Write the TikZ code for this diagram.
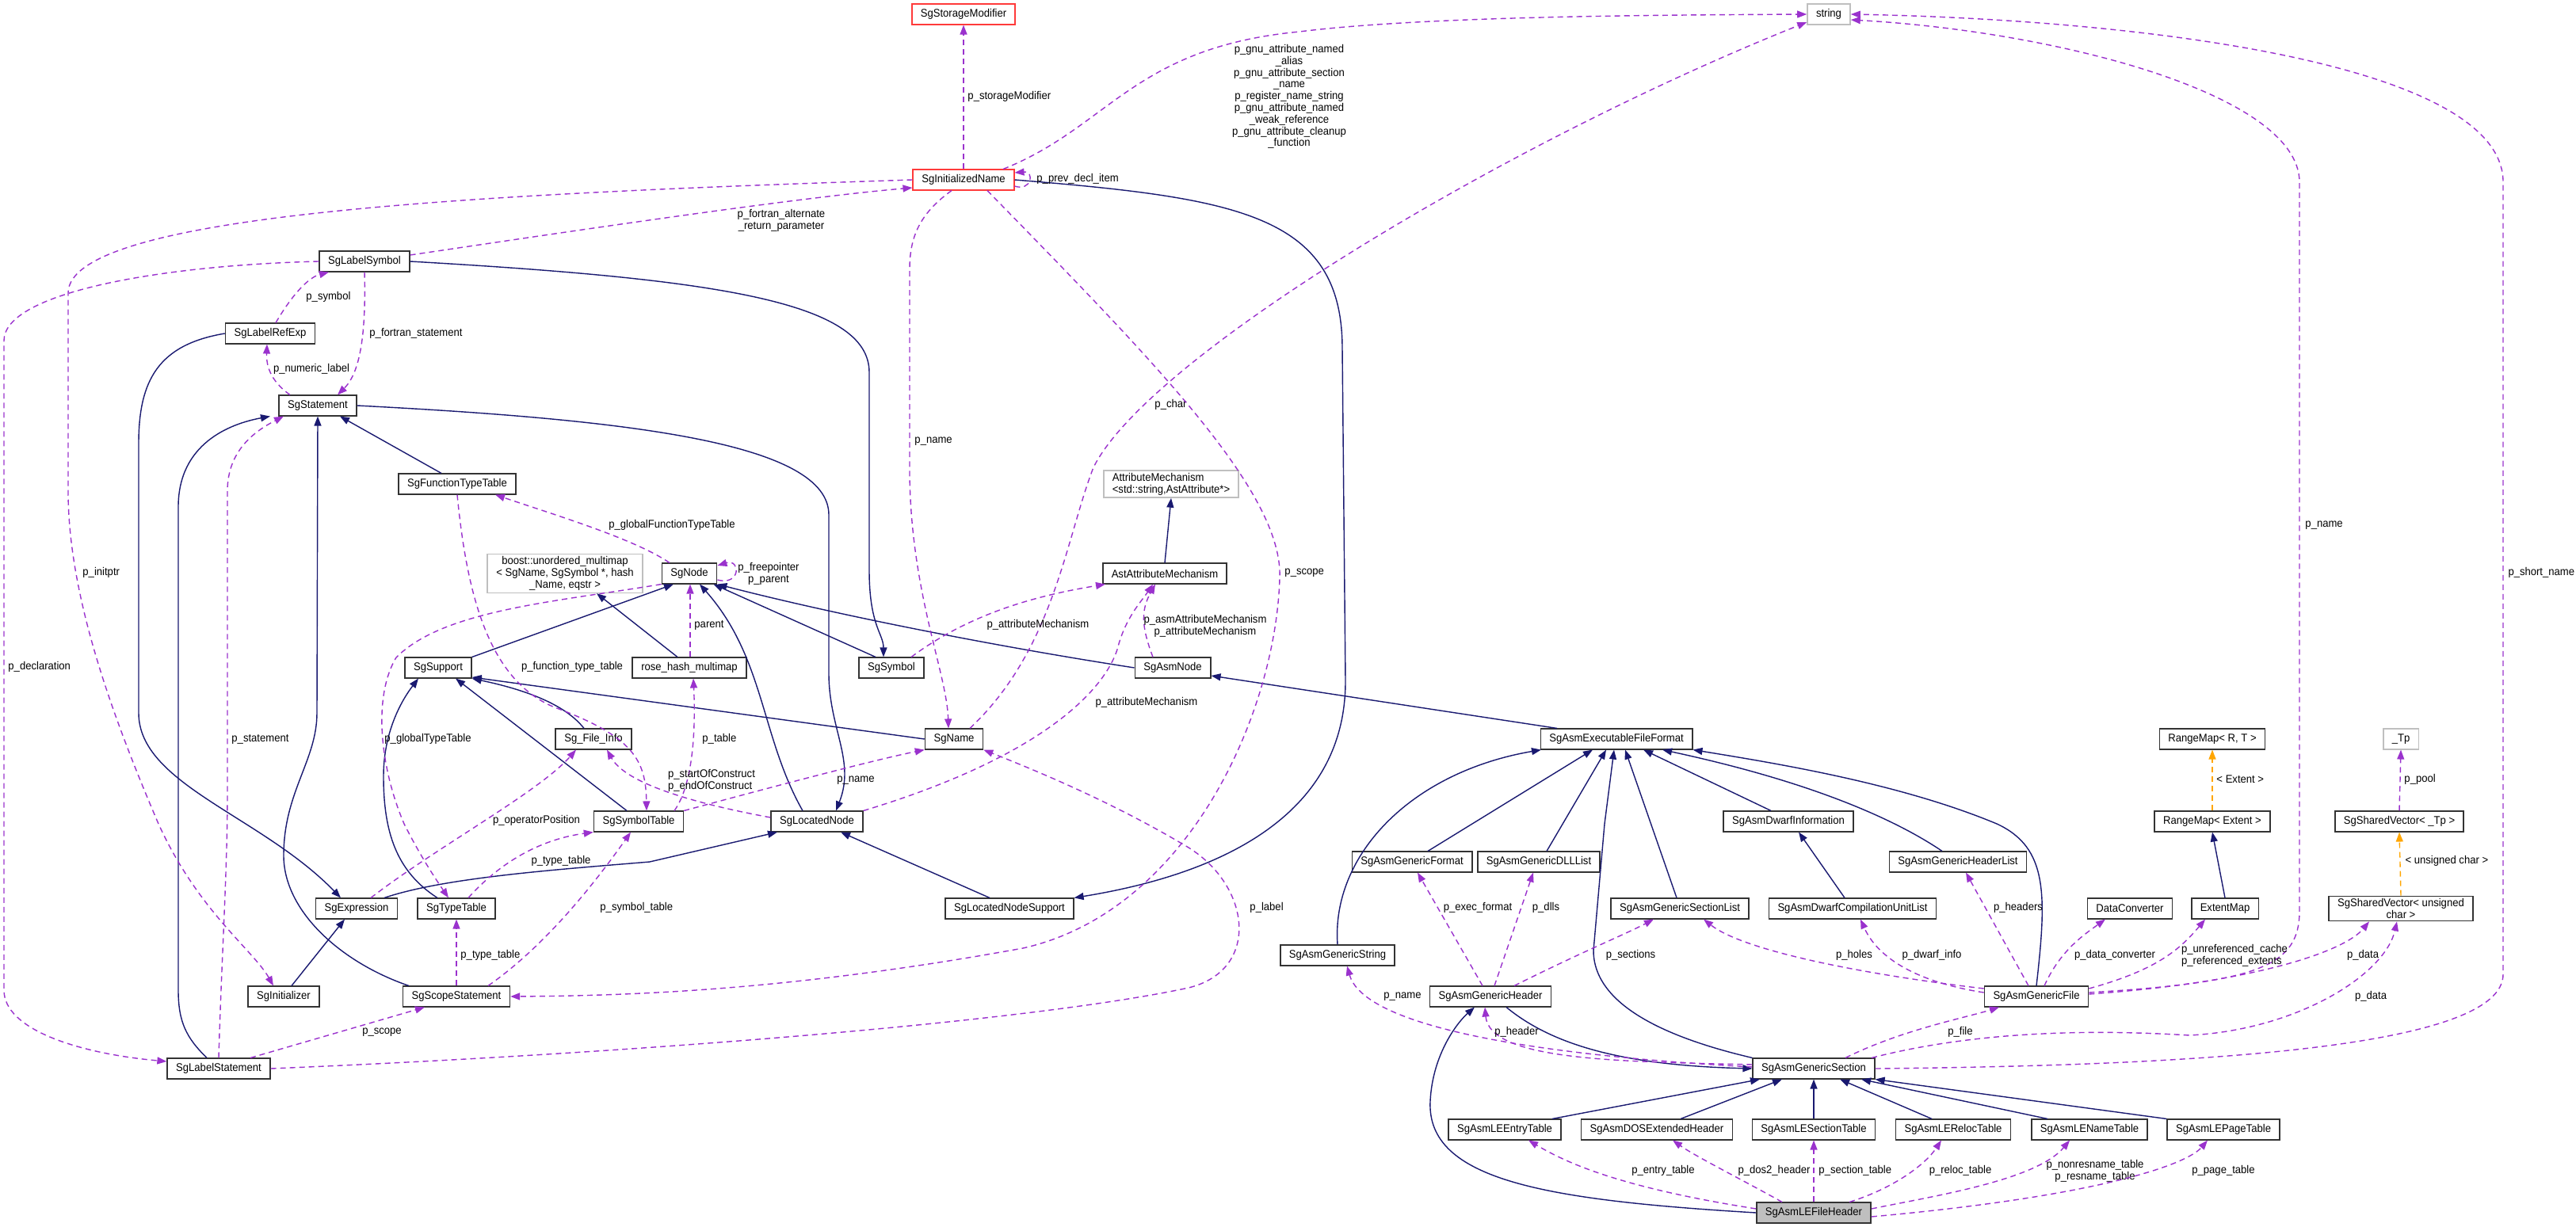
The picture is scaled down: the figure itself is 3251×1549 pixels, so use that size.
\documentclass[tikz,border=0pt]{standalone}
\usepackage{fontspec}
\setmainfont{Liberation Sans}[FakeStretch=0.93]
\usetikzlibrary{arrows.meta}
\definecolor{edgeblue}{HTML}{191970}
\definecolor{usepurple}{HTML}{9A32CD}
\definecolor{tplorange}{HTML}{FFA500}
\definecolor{trunred}{HTML}{FF3A3A}
\definecolor{extgray}{HTML}{BFBFBF}

\begin{document}
\begin{tikzpicture}[
  x=0.01cm,
  y=-0.01cm,
  cls/.style={
    draw=black!80,
    fill=white,
    line width=0.45pt,
    font=\fontsize{4}{4.2}\selectfont,
    inner xsep=0.11cm,
    inner ysep=0.03cm,
    minimum height=0.255cm
  },
  ext/.style={draw=extgray},
  trunc/.style={draw=trunred},
  focus/.style={fill=extgray},
  lbl/.style={font=\fontsize{4}{4.2}\selectfont, inner sep=0.5pt, text=black},
  inh/.style={-{Triangle[length=0.12cm, width=0.09cm]}, line width=0.4pt, draw=edgeblue},
  member/.style={-{Triangle[length=0.12cm, width=0.09cm]}, line width=0.4pt, draw=usepurple, dash pattern=on 0.07cm off 0.05cm},
  tpl/.style={-{Triangle[length=0.12cm, width=0.09cm]}, line width=0.4pt, draw=tplorange, dash pattern=on 0.07cm off 0.05cm}
]
\useasboundingbox (0,0) rectangle (3251,1549);

\node[cls, trunc] (stor)  at (1216,18)  {SgStorageModifier};
\node[cls, ext]   (str)   at (2308,18)  {string};
\node[cls, trunc] (iname) at (1216,227) {SgInitializedName};
\node[cls] (lsym)  at (460,330) {SgLabelSymbol};
\node[cls] (lref)  at (341,421) {SgLabelRefExp};
\node[cls] (stmt)  at (401,512) {SgStatement};
\node[cls] (ftt)   at (577,611) {SgFunctionTypeTable};
\node[cls, ext, align=left]   (attm)  at (1478,611) {AttributeMechanism\\<std::string,AstAttribute*>};
\node[cls, ext, align=center] (boost) at (713,724)  {boost::unordered\_multimap\\< SgName, SgSymbol *, hash\\\_Name, eqstr >};
\node[cls] (node)    at (870,724)  {SgNode};
\node[cls] (aam)     at (1470,724) {AstAttributeMechanism};
\node[cls] (sup)     at (553,843)  {SgSupport};
\node[cls] (rose)    at (870,843)  {rose\_hash\_multimap};
\node[cls] (sym)     at (1125,843) {SgSymbol};
\node[cls] (asmnode) at (1480,843) {SgAsmNode};
\node[cls] (finfo)   at (749,933)  {Sg\_File\_Info};
\node[cls] (name)    at (1204,933) {SgName};
\node[cls] (exe)     at (2040,933) {SgAsmExecutableFileFormat};
\node[cls] (rmrt)    at (2792,933) {RangeMap< R, T >};
\node[cls, ext] (tp) at (3030,933) {\_Tp};
\node[cls] (symt)    at (806,1037)  {SgSymbolTable};
\node[cls] (lnode)   at (1031,1037) {SgLocatedNode};
\node[cls] (dwinfo)  at (2257,1037) {SgAsmDwarfInformation};
\node[cls] (rmext)   at (2792,1037) {RangeMap< Extent >};
\node[cls] (svtp)    at (3028,1037) {SgSharedVector< \_Tp >};
\node[cls] (gfmt)    at (1782,1088) {SgAsmGenericFormat};
\node[cls] (gdll)    at (1942,1088) {SgAsmGenericDLLList};
\node[cls] (ghl)     at (2471,1088) {SgAsmGenericHeaderList};
\node[cls] (expr)    at (450,1147)  {SgExpression};
\node[cls] (ttab)    at (576,1147)  {SgTypeTable};
\node[cls] (lnsup)   at (1274,1147) {SgLocatedNodeSupport};
\node[cls] (gsl)     at (2120,1147) {SgAsmGenericSectionList};
\node[cls] (dwcul)   at (2338,1147) {SgAsmDwarfCompilationUnitList};
\node[cls] (dconv)   at (2688,1147) {DataConverter};
\node[cls] (emap)    at (2808,1147) {ExtentMap};
\node[cls, align=center] (svuc) at (3030,1147) {SgSharedVector< unsigned\\char >};
\node[cls] (gstr)    at (1688,1206) {SgAsmGenericString};
\node[cls] (init)    at (358,1258)  {SgInitializer};
\node[cls] (scope)   at (576,1258)  {SgScopeStatement};
\node[cls] (ghdr)    at (1881,1258) {SgAsmGenericHeader};
\node[cls] (gfile)   at (2570,1258) {SgAsmGenericFile};
\node[cls] (lstmt)   at (276,1349)  {SgLabelStatement};
\node[cls] (gsec)    at (2289,1349) {SgAsmGenericSection};
\node[cls] (entry)   at (1899,1426) {SgAsmLEEntryTable};
\node[cls] (dos)     at (2091,1426) {SgAsmDOSExtendedHeader};
\node[cls] (sectab)  at (2289,1426) {SgAsmLESectionTable};
\node[cls] (reloc)   at (2465,1426) {SgAsmLERelocTable};
\node[cls] (nametab) at (2637,1426) {SgAsmLENameTable};
\node[cls] (pagetab) at (2806,1426) {SgAsmLEPageTable};
\node[cls, focus] (fhdr) at (2289,1531) {SgAsmLEFileHeader};

\draw[inh] (lsym.east) .. controls (900,352) and (1097,380) .. (1097,470) -- (1097,720) .. controls (1097,790) and (1115,800) .. ([xshift=-0.1cm]sym.north);
\draw[inh] (stmt.east) .. controls (800,530) and (1046,560) .. (1046,650) -- (1046,850) .. controls (1046,920) and (1080,960) .. ([xshift=0.24cm]lnode.north);
\draw[inh] ([xshift=-0.2cm]ftt.north) -- ([xshift=0.28cm]stmt.south);
\draw[inh] ([xshift=-0.15cm]lstmt.north) .. controls (235,1310) and (225,1290) .. (225,1250) -- (225,640) .. controls (225,560) and (290,535) .. ([xshift=-0.6cm]stmt.south);
\draw[inh] ([xshift=-0.6cm]scope.north) .. controls (430,1215) and (358,1150) .. (358,1080) .. controls (358,1000) and (400,960) .. (400,900) -- (stmt.south);
\draw[inh] (lref.west) .. controls (200,435) and (175,480) .. (175,560) -- (175,900) .. controls (175,990) and (330,1030) .. ([xshift=-0.2cm]expr.north);
\draw[inh] ([xshift=0.1cm]init.north) -- ([xshift=-0.15cm]expr.south);
\draw[inh] ([xshift=0.35cm]expr.north) .. controls (560,1108) and (700,1098) .. (820,1088) -- ([xshift=-0.5cm]lnode.south);
\draw[inh] ([xshift=-0.25cm]lnsup.north) -- ([xshift=0.3cm]lnode.south);
\draw[inh] (iname.east) .. controls (1560,250) and (1694,270) .. (1694,440) -- (1698,860) .. controls (1698,1050) and (1500,1110) .. (lnsup.north east);
\draw[inh] ([xshift=-0.2cm]sym.north) -- ([xshift=-0.05cm]node.south east);
\draw[inh] (asmnode.west) .. controls (1250,815) and (1050,775) .. (node.south east);
\draw[inh] ([xshift=-0.18cm]lnode.north) .. controls (960,930) and (965,830) .. ([xshift=0.13cm]node.south);
\draw[inh] ([xshift=-0.15cm]rose.north) -- ([xshift=0.4cm]boost.south);
\draw[inh] (sup.north east) -- ([xshift=-0.2cm]node.south);
\draw[inh] (name.west) -- ([yshift=-0.12cm]sup.east);
\draw[inh] ([xshift=-0.12cm]finfo.north) .. controls (710,885) and (650,868) .. (sup.south east);
\draw[inh] ([xshift=-0.15cm]symt.north) -- ([xshift=0.22cm]sup.south);
\draw[inh] ([xshift=-0.24cm]ttab.north) .. controls (500,1100) and (484,1050) .. (484,980) .. controls (484,920) and (510,880) .. ([xshift=-0.25cm]sup.south);
\draw[inh] (aam.north) -- (attm.south);
\draw[inh] ([xshift=-0.75cm]exe.north) -- ([yshift=-0.1cm]asmnode.east);
\draw[inh] (gstr.north) .. controls (1680,1080) and (1780,975) .. ([xshift=-0.95cm]exe.south);
\draw[inh] ([xshift=0.2cm]gfmt.north) -- ([xshift=-0.3cm]exe.south);
\draw[inh] ([xshift=0.1cm]gdll.north) -- ([xshift=-0.13cm]exe.south);
\draw[inh] (gsec.north west) .. controls (2060,1300) and (2011,1250) .. (2011,1200) -- (2025,1040) -- ([xshift=-0.03cm]exe.south);
\draw[inh] ([xshift=-0.04cm]gsl.north) -- ([xshift=0.11cm]exe.south);
\draw[inh] ([xshift=-0.22cm]dwinfo.north) -- ([xshift=0.34cm]exe.south);
\draw[inh] ([xshift=-0.2cm]ghl.north) .. controls (2400,1040) and (2300,990) .. ([xshift=0.58cm]exe.south);
\draw[inh] (gfile.north) .. controls (2583,1130) and (2585,1070) .. (2520,1040) .. controls (2400,990) and (2250,965) .. (exe.south east);
\draw[inh] ([xshift=-0.1cm]dwcul.north) -- ([xshift=0.13cm]dwinfo.south);
\draw[inh] (emap.north) -- (rmext.south);
\draw[inh] ([xshift=0.2cm]ghdr.south) .. controls (1960,1320) and (2050,1345) .. (gsec.west);
\draw[inh] (fhdr.west) .. controls (1950,1515) and (1800,1490) .. (1805,1390) .. controls (1808,1330) and (1840,1290) .. ([xshift=-0.2cm]ghdr.south);
\draw[inh] ([xshift=0.6cm]entry.north) -- ([xshift=-0.68cm]gsec.south);
\draw[inh] ([xshift=0.3cm]dos.north) -- ([xshift=-0.4cm]gsec.south);
\draw[inh] (sectab.north) -- (gsec.south);
\draw[inh] ([xshift=-0.27cm]reloc.north) -- ([xshift=0.33cm]gsec.south);
\draw[inh] ([xshift=-0.53cm]nametab.north) -- ([xshift=0.6cm]gsec.south);
\draw[inh] (pagetab.north west) -- (gsec.south east);

\draw[tpl] (rmext.north) -- (rmrt.south);
\node[lbl, anchor=west] (lext) at (2795,984) {< Extent >};
\draw[tpl] (svuc.north) -- (svtp.south);
\node[lbl, anchor=west] (luchar) at (3033,1087) {< unsigned char >};

\draw[member] (iname.north) -- (stor.south);
\node[lbl, anchor=west] (lstor) at (1219,122) {p\_storageModifier};
\draw[member] ([xshift=0.5cm]iname.north) .. controls (1400,160) and (1430,60) .. (1640,40) .. controls (1800,20) and (2100,19) .. (str.west);
\node[lbl, align=center] (lgnu) at (1627,122) {p\_gnu\_attribute\_named\\\_alias\\p\_gnu\_attribute\_section\\\_name\\p\_register\_name\_string\\p\_gnu\_attribute\_named\\\_weak\_reference\\p\_gnu\_attribute\_cleanup\\\_function};
\draw[member] ([yshift=-0.08cm]iname.east) .. controls (1302,242) and (1306,216) .. ([yshift=0.09cm]iname.east);
\node[lbl, anchor=west] (lprev) at (1306,226) {p\_prev\_decl\_item};
\draw[member] ([yshift=0.08cm]lsym.east) .. controls (700,295) and (1000,250) .. ([yshift=-0.1cm]iname.west);
\node[lbl, align=center] (lfalt) at (986,278) {p\_fortran\_alternate\\\_return\_parameter};
\draw[member] ([xshift=0.07cm]lref.north) .. controls (370,370) and (390,350) .. ([xshift=-0.45cm]lsym.south);
\node[lbl, anchor=west] (lsymb) at (384,375) {p\_symbol};
\draw[member] (lsym.south) .. controls (462,420) and (455,470) .. ([xshift=0.25cm]stmt.north);
\node[lbl, anchor=west] (lfstmt) at (464,421) {p\_fortran\_statement};
\draw[member] ([xshift=-0.35cm]stmt.north) .. controls (340,480) and (336,460) .. ([xshift=-0.04cm]lref.south);
\node[lbl] (lnum) at (393,466) {p\_numeric\_label};
\draw[member] ([xshift=-0.15cm]iname.south) .. controls (1160,270) and (1148,300) .. (1148,340) -- (1148,600) .. controls (1150,750) and (1195,850) .. ([xshift=-0.07cm]name.north);
\node[lbl, anchor=west] (lname) at (1152,557) {p\_name};
\draw[member] ([xshift=0.2cm]name.north) .. controls (1330,820) and (1345,680) .. (1380,590) .. controls (1450,450) and (1900,180) .. ([yshift=-0.1cm]str.west);
\node[lbl, anchor=west] (lchar) at (1455,511) {p\_char};
\draw[member] ([xshift=0.3cm]iname.south) .. controls (1450,450) and (1620,620) .. (1615,730) .. controls (1610,900) and (1500,1150) .. (1291,1197) .. controls (1000,1250) and (800,1257) .. (scope.east);
\node[lbl, anchor=west] (lscope) at (1619,723) {p\_scope};
\draw[member] (iname.west) .. controls (600,245) and (86,270) .. (86,370) -- (86,620) .. controls (86,750) and (140,900) .. (200,1040) .. controls (250,1150) and (320,1200) .. ([xshift=-0.13cm]init.north);
\node[lbl, anchor=west] (linit) at (102,723) {p\_initptr};
\draw[member] (lsym.west) .. controls (200,335) and (5,370) .. (5,430) -- (5,1250) .. controls (5,1300) and (100,1330) .. ([yshift=0.09cm]lstmt.west);
\node[lbl, anchor=west] (ldecl) at (8,842) {p\_declaration};
\draw[member] (lstmt.north) .. controls (280,1200) and (287,1100) .. (287,1000) -- (287,620) .. controls (287,570) and (320,545) .. ([xshift=-0.43cm]stmt.south);
\node[lbl, anchor=west] (lstat) at (290,933) {p\_statement};
\draw[member] ([xshift=0.4cm]lstmt.north) -- ([xshift=-0.4cm]scope.south);
\node[lbl] (lscope2) at (482,1303) {p\_scope};
\draw[member] (lstmt.east) .. controls (800,1330) and (1300,1290) .. (1500,1247) .. controls (1590,1225) and (1580,1120) .. (1500,1070) .. controls (1400,1010) and (1300,970) .. (name.south east);
\node[lbl, anchor=west] (llabel) at (1575,1146) {p\_label};
\draw[member] (scope.north) -- (ttab.south);
\node[lbl, anchor=west] (lttab) at (579,1206) {p\_type\_table};
\draw[member] ([xshift=0.4cm]scope.north) .. controls (680,1200) and (740,1130) .. ([xshift=-0.1cm]symt.south);
\node[lbl, anchor=west] (lsymt) at (755,1146) {p\_symbol\_table};
\draw[member] ([xshift=0.15cm]ttab.north) .. controls (630,1090) and (680,1060) .. (symt.south west);
\node[lbl] (lttab2) at (708,1087) {p\_type\_table};
\draw[member] ([xshift=0.18cm]expr.north) .. controls (550,1070) and (680,1000) .. ([xshift=-0.22cm]finfo.south);
\node[lbl] (lopos) at (677,1036) {p\_operatorPosition};
\draw[member] (node.south west) .. controls (700,760) and (560,770) .. (500,830) .. controls (470,880) and (480,970) .. (510,1040) .. controls (530,1080) and (550,1110) .. ([xshift=-0.1cm]ttab.north);
\node[lbl, anchor=west] (lgtt) at (483,933) {p\_globalTypeTable};
\draw[member] ([xshift=-0.25cm]node.north) .. controls (800,680) and (700,650) .. ([xshift=0.48cm]ftt.south);
\node[lbl] (lgftt) at (848,663) {p\_globalFunctionTypeTable};
\draw[member] (ftt.south) .. controls (590,760) and (620,860) .. (700,893) .. controls (800,930) and (815,960) .. ([xshift=0.1cm]symt.north);
\node[lbl] (lftt) at (722,842) {p\_function\_type\_table};
\draw[member] ([yshift=-0.08cm]node.east) .. controls (935,740) and (935,705) .. ([yshift=0.1cm]node.east);
\node[lbl, align=center] (lfree) at (970,724) {p\_freepointer\\p\_parent};
\draw[member] ([xshift=0.01cm]rose.north) -- ([xshift=0.01cm]node.south);
\node[lbl, anchor=west] (lparent) at (874,789) {parent};
\draw[member] ([xshift=0.45cm]symt.north) .. controls (875,990) and (878,920) .. ([xshift=0.05cm]rose.south);
\node[lbl, anchor=west] (ltable) at (884,933) {p\_table};
\draw[member] (symt.north east) .. controls (950,1000) and (1100,960) .. (name.south west);
\node[lbl] (lname2) at (1080,985) {p\_name};
\draw[member] ([yshift=0.05cm]lnode.west) .. controls (880,1015) and (790,990) .. ([xshift=0.17cm]finfo.south);
\node[lbl, align=left] (lconstr) at (898,985) {p\_startOfConstruct\\p\_endOfConstruct};
\draw[member] (lnode.north east) .. controls (1300,960) and (1390,880) .. (1410,820) .. controls (1420,780) and (1440,760) .. ([xshift=-0.15cm]aam.south);
\node[lbl] (lattr1) at (1447,887) {p\_attributeMechanism};
\draw[member] ([xshift=0.25cm]sym.north) .. controls (1230,770) and (1320,750) .. ([xshift=-0.75cm]aam.south);
\node[lbl] (lattr2) at (1310,789) {p\_attributeMechanism};
\draw[member] ([xshift=-0.25cm]asmnode.north) .. controls (1440,790) and (1440,770) .. ([xshift=-0.12cm]aam.south);
\node[lbl, align=center] (lattr3) at (1521,790) {p\_asmAttributeMechanism\\p\_attributeMechanism};

\draw[member] ([xshift=-0.1cm]ghdr.north) -- ([xshift=0.07cm]gfmt.south);
\node[lbl] (lexec) at (1865,1146) {p\_exec\_format};
\draw[member] ([xshift=0.05cm]ghdr.north) -- ([xshift=-0.07cm]gdll.south);
\node[lbl] (ldlls) at (1951,1146) {p\_dlls};
\draw[member] ([xshift=0.3cm]ghdr.north) .. controls (2000,1200) and (2050,1180) .. ([xshift=-0.33cm]gsl.south);
\node[lbl] (lsects) at (2058,1206) {p\_sections};
\draw[member] ([yshift=0.05cm]gsec.west) .. controls (2050,1340) and (1880,1340) .. ([xshift=-0.07cm]ghdr.south);
\node[lbl] (lhdr) at (1914,1303) {p\_header};
\draw[member] ([yshift=0.02cm]gsec.west) .. controls (1900,1330) and (1720,1290) .. ([xshift=0.12cm]gstr.south);
\node[lbl] (lgname) at (1770,1258) {p\_name};
\draw[member] ([xshift=0.4cm]gsec.north) .. controls (2400,1300) and (2480,1285) .. ([xshift=-0.47cm]gfile.south);
\node[lbl] (lfile) at (2474,1303) {p\_file};
\draw[member] ([xshift=0.73cm]gsec.north) .. controls (2500,1300) and (2650,1300) .. (2763,1307) .. controls (2900,1300) and (3010,1230) .. ([xshift=-0.05cm]svuc.south);
\node[lbl] (ldata1) at (2992,1258) {p\_data};
\draw[member] (gsec.east) .. controls (2800,1345) and (3159,1320) .. (3159,1230) -- (3159,230) .. controls (3159,80) and (2700,25) .. (str.east);
\node[lbl, anchor=west] (lshort) at (3163,723) {p\_short\_name};
\draw[member] ([yshift=0.05cm]gfile.east) .. controls (2850,1240) and (2902,1220) .. (2902,1150) -- (2902,230) .. controls (2902,120) and (2600,40) .. ([yshift=-0.07cm]str.east);
\node[lbl, anchor=west] (lfname) at (2907,663) {p\_name};
\draw[member] ([yshift=0.03cm]gfile.east) .. controls (2850,1240) and (2960,1200) .. ([xshift=-0.4cm]svuc.south);
\node[lbl] (ldata2) at (2982,1206) {p\_data};
\draw[member] ([yshift=0.1cm]gfile.east) .. controls (2720,1225) and (2750,1200) .. ([xshift=-0.25cm]emap.south);
\node[lbl, align=left] (lextents) at (2820,1206) {p\_unreferenced\_cache\\p\_referenced\_extents};
\draw[member] ([xshift=0.1cm]gfile.north) .. controls (2600,1200) and (2630,1180) .. ([xshift=-0.31cm]dconv.south);
\node[lbl] (ldconv) at (2669,1206) {p\_data\_converter};
\draw[member] ([xshift=-0.1cm]gfile.north) -- ([xshift=0.1cm]ghl.south);
\node[lbl] (lhdrs) at (2547,1146) {p\_headers};
\draw[member] ([yshift=0.05cm]gfile.west) .. controls (2420,1240) and (2370,1210) .. ([xshift=0.1cm]dwcul.south);
\node[lbl] (ldwarf) at (2438,1206) {p\_dwarf\_info};
\draw[member] ([yshift=0.1cm]gfile.west) .. controls (2350,1230) and (2200,1200) .. ([xshift=0.3cm]gsl.south);
\node[lbl] (lholes) at (2340,1206) {p\_holes};
\draw[member] (svtp.north) -- (tp.south);
\node[lbl, anchor=west] (lpool) at (3032,984) {p\_pool};

\draw[member] ([yshift=0.05cm]fhdr.west) .. controls (2050,1500) and (1980,1470) .. ([xshift=0.3cm]entry.south);
\node[lbl] (lentry) at (2099,1478) {p\_entry\_table};
\draw[member] ([xshift=-0.4cm]fhdr.north) .. controls (2200,1490) and (2140,1460) .. ([xshift=0.2cm]dos.south);
\node[lbl] (ldos) at (2239,1478) {p\_dos2\_header};
\draw[member] (fhdr.north) -- (sectab.south);
\node[lbl, anchor=west] (lsectab) at (2293,1478) {p\_section\_table};
\draw[member] ([xshift=0.45cm]fhdr.north) .. controls (2390,1500) and (2430,1470) .. ([xshift=-0.15cm]reloc.south);
\node[lbl] (lreloc) at (2474,1478) {p\_reloc\_table};
\draw[member] ([yshift=0.05cm]fhdr.east) .. controls (2440,1510) and (2570,1490) .. ([xshift=-0.25cm]nametab.south);
\node[lbl, align=center] (lnames) at (2644,1478) {p\_nonresname\_table\\p\_resname\_table};
\draw[member] ([yshift=-0.05cm]fhdr.east) .. controls (2650,1510) and (2760,1470) .. ([xshift=-0.2cm]pagetab.south);
\node[lbl] (lpage) at (2806,1478) {p\_page\_table};
\end{tikzpicture}
\end{document}
